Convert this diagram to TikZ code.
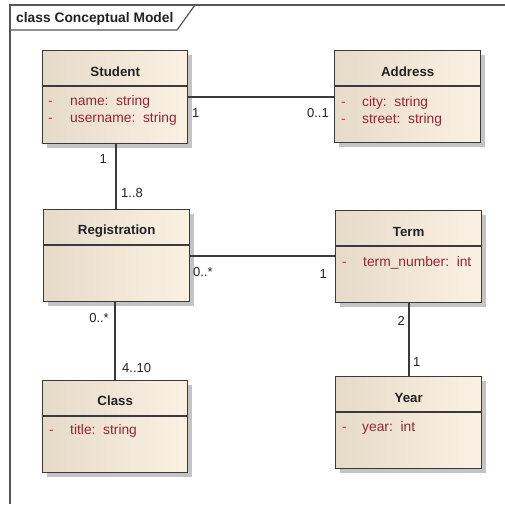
\documentclass[tikz,border=0pt]{standalone}
\usepackage{fontspec}
\setmainfont{Liberation Sans}
\usetikzlibrary{calc,shadows}
\definecolor{frameline}{HTML}{555555}
\definecolor{boxline}{HTML}{3A3A3A}
\definecolor{boxL}{HTML}{E6DBC9}
\definecolor{boxR}{HTML}{FBF1E3}
\definecolor{attrc}{HTML}{952535}
\definecolor{dashc}{HTML}{D03030}
\definecolor{labc}{HTML}{222222}
\definecolor{shadc}{HTML}{C4C4C4}
\tikzset{
  umlbox/.style={draw=boxline, line width=1.4pt, left color=boxL, right color=boxR,
    inner sep=0pt, anchor=north west,
    drop shadow={shadow xshift=4pt, shadow yshift=-4pt, fill=shadc, opacity=1}},
  sepline/.style={draw=boxline, line width=1.2pt},
  ctitle/.style={font=\fontsize{13.3}{15}\selectfont\bfseries, text=labc, inner sep=0pt},
  attr/.style={font=\fontsize{13.8}{15}\selectfont, text=attrc, inner sep=0pt, anchor=base west},
  adash/.style={font=\fontsize{13.8}{15}\selectfont, text=dashc, inner sep=0pt, anchor=base west},
  mult/.style={font=\fontsize{13}{15}\selectfont, text=labc, inner sep=0pt, anchor=base},
  assoc/.style={draw=boxline, line width=1.3pt},
}
\begin{document}
\begin{tikzpicture}[x=1pt,y=-1pt]
\useasboundingbox (0,0) rectangle (505,504);
% frame
\coordinate (fTL) at (10,5);
\coordinate (fTR) at (505,5);
\coordinate (fBL) at (10,504);
\draw[frameline, line width=1.4pt] (fTR) -- (fTL) -- (fBL);
\coordinate (tabA) at (195,5);
\coordinate (tabB) at (177,30);
\coordinate (tabC) at (10,30);
\draw[frameline, line width=1.2pt] (tabA) -- (tabB) -- (tabC);
\node[font=\fontsize{13.8}{15}\selectfont\bfseries, text=labc, anchor=base west, inner sep=0pt] (frametitle) at (16,22) {class Conceptual Model};

% Student
\node[umlbox, minimum width=145, minimum height=93] (student) at (42,50) {};
\draw[sepline] ($(student.north west)+(0,36)$) -- ($(student.north east)+(0,36)$);
\node[ctitle, anchor=base] (studentT) at ($(student.north)+(0,26)$) {Student};
\node[adash] (sd1) at (48,105) {-};
\node[attr] (sa1) at (70,105) {name:\ \ string};
\node[adash] (sd2) at (48,122) {-};
\node[attr] (sa2) at (70,122) {username:\ \ string};

% Address
\node[umlbox, minimum width=146, minimum height=92] (address) at (334,50) {};
\draw[sepline] ($(address.north west)+(0,36)$) -- ($(address.north east)+(0,36)$);
\node[ctitle, anchor=base] (addressT) at ($(address.north)+(0,26)$) {Address};
\node[adash] (ad1) at (341,106) {-};
\node[attr] (aa1) at (362,106) {city:\ \ string};
\node[adash] (ad2) at (341,123) {-};
\node[attr] (aa2) at (362,123) {street:\ \ string};

% Registration
\node[umlbox, minimum width=146, minimum height=92] (reg) at (43,209) {};
\draw[sepline] ($(reg.north west)+(0,36)$) -- ($(reg.north east)+(0,36)$);
\node[ctitle, anchor=base] (regT) at ($(reg.north)+(0,25)$) {Registration};

% Term
\node[umlbox, minimum width=146, minimum height=92] (term) at (335,210) {};
\draw[sepline] ($(term.north west)+(0,36)$) -- ($(term.north east)+(0,36)$);
\node[ctitle, anchor=base] (termT) at ($(term.north)+(0,26)$) {Term};
\node[adash] (td1) at (342,266) {-};
\node[attr] (ta1) at (363,266) {term\_number:\ \ int};

% Class
\node[umlbox, minimum width=145, minimum height=92] (class) at (42,380) {};
\draw[sepline] ($(class.north west)+(0,36)$) -- ($(class.north east)+(0,36)$);
\node[ctitle, anchor=base] (classT) at ($(class.north)+(0,25)$) {Class};
\node[adash] (cd1) at (49,434) {-};
\node[attr] (ca1) at (70,434) {title:\ \ string};

% Year
\node[umlbox, minimum width=146, minimum height=92] (year) at (335,376) {};
\draw[sepline] ($(year.north west)+(0,36)$) -- ($(year.north east)+(0,36)$);
\node[ctitle, anchor=base] (yearT) at ($(year.north)+(0,26)$) {Year};
\node[adash] (yd1) at (342,431) {-};
\node[attr] (ya1) at (362,431) {year:\ \ int};

% associations
\coordinate (sa) at (0,97);
\draw[assoc] (student.east |- sa) -- (address.west |- sa);
\coordinate (sr) at (116,0);
\draw[assoc] (student.south -| sr) -- (reg.north -| sr);
\coordinate (rt) at (0,256);
\draw[assoc] (reg.east |- rt) -- (term.west |- rt);
\coordinate (rc) at (115,0);
\draw[assoc] (reg.south -| rc) -- (class.north -| rc);
\coordinate (ty) at (409,0);
\draw[assoc] (term.south -| ty) -- (year.north -| ty);

% multiplicities
\node[mult, anchor=base west] (m1) at (192,117) {1};
\node[mult, anchor=base east] (m2) at (329,117) {0..1};
\node[mult, anchor=base east] (m3) at (107,163) {1};
\node[mult, anchor=base west] (m4) at (121,197) {1..8};
\node[mult, anchor=base west] (m5) at (193,276) {0..*};
\node[mult, anchor=base east] (m6) at (327,278) {1};
\node[mult, anchor=base east] (m7) at (109,322) {0..*};
\node[mult, anchor=base west] (m8) at (122,372) {4..10};
\node[mult, anchor=base east] (m9) at (405,325) {2};
\node[mult, anchor=base west] (m10) at (413,366) {1};
\end{tikzpicture}
\end{document}
